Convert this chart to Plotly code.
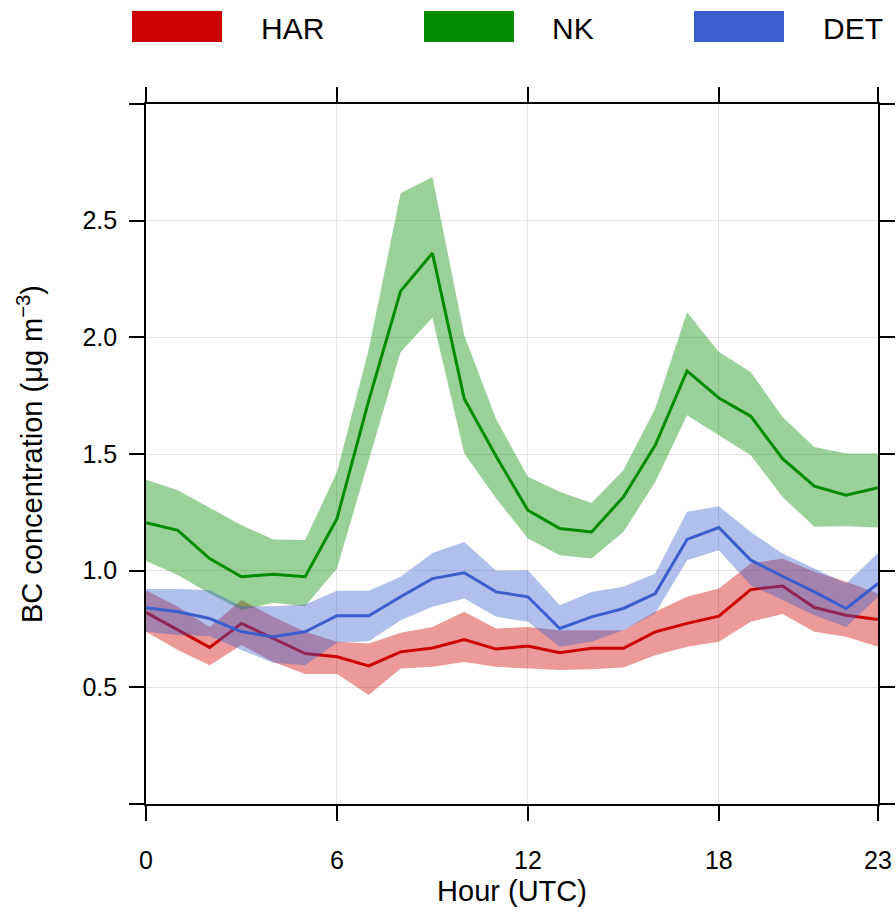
import plotly.graph_objects as go

# Diurnal black carbon profiles: mean with confidence band per site
hours = list(range(24))

har_mean = [0.821, 0.745, 0.671, 0.774, 0.710, 0.645, 0.631, 0.592, 0.652, 0.669, 0.705, 0.664,
            0.677, 0.648, 0.667, 0.667, 0.738, 0.774, 0.805, 0.919, 0.934, 0.842, 0.809, 0.791]
har_upper = [0.916, 0.845, 0.759, 0.874, 0.802, 0.738, 0.695, 0.688, 0.734, 0.759, 0.824, 0.752,
             0.759, 0.745, 0.745, 0.745, 0.824, 0.888, 0.924, 1.031, 1.052, 0.995, 0.952, 0.902]
har_lower = [0.738, 0.660, 0.595, 0.681, 0.609, 0.557, 0.557, 0.467, 0.581, 0.588, 0.609, 0.588,
             0.581, 0.574, 0.577, 0.585, 0.638, 0.674, 0.695, 0.781, 0.814, 0.738, 0.717, 0.674]

nk_mean = [1.206, 1.173, 1.052, 0.974, 0.985, 0.974, 1.223, 1.730, 2.198, 2.361, 1.737, 1.490,
           1.259, 1.181, 1.166, 1.316, 1.537, 1.856, 1.740, 1.662, 1.480, 1.362, 1.323, 1.355]
nk_upper = [1.390, 1.345, 1.270, 1.195, 1.134, 1.131, 1.423, 1.950, 2.618, 2.687, 2.009, 1.650,
            1.402, 1.338, 1.290, 1.430, 1.695, 2.107, 1.937, 1.851, 1.659, 1.530, 1.502, 1.502]
nk_lower = [1.041, 0.981, 0.902, 0.831, 0.862, 0.848, 1.009, 1.470, 1.937, 2.084, 1.502, 1.310,
            1.138, 1.066, 1.052, 1.166, 1.380, 1.666, 1.580, 1.495, 1.316, 1.188, 1.190, 1.185]

det_mean = [0.841, 0.824, 0.795, 0.738, 0.717, 0.738, 0.807, 0.807, 0.888, 0.966, 0.991, 0.909,
            0.888, 0.752, 0.802, 0.838, 0.902, 1.134, 1.185, 1.045, 0.976, 0.909, 0.838, 0.945]
det_upper = [0.921, 0.921, 0.916, 0.848, 0.848, 0.855, 0.914, 0.914, 0.974, 1.076, 1.123, 1.000,
             1.002, 0.852, 0.909, 0.931, 0.988, 1.252, 1.276, 1.166, 1.074, 1.009, 0.945, 1.076]
det_lower = [0.738, 0.724, 0.720, 0.660, 0.605, 0.595, 0.692, 0.697, 0.788, 0.845, 0.881, 0.802,
             0.781, 0.674, 0.695, 0.745, 0.817, 1.045, 1.088, 0.938, 0.874, 0.809, 0.759, 0.888]

site_names = ["HAR", "NK", "DET"]
site_colors = [(205, 0, 0), (0, 139, 0), (58, 95, 205)]
series = [
    (har_mean, har_upper, har_lower),
    (nk_mean, nk_upper, nk_lower),
    (det_mean, det_upper, det_lower),
]

x_ticks = [0, 6, 12, 18, 23]
y_ticks = [0, 0.5, 1.0, 1.5, 2.0, 2.5, 3.0]
y_ticktext = ["", "0.5", "1.0", "1.5", "2.0", "2.5", ""]

FONT = "Liberation Sans, Arial, sans-serif"
W, H = 896, 917
ML, MR, MT, MB = 146, 18, 104, 113
PW, PH = W - ML - MR, H - MT - MB

fig = go.Figure()

for name, rgb, (mean, upper, lower) in zip(site_names, site_colors, series):
    r, g, b = rgb
    fig.add_trace(go.Scatter(
        x=hours + hours[::-1],
        y=upper + lower[::-1],
        fill="toself",
        fillcolor=f"rgba({r},{g},{b},0.4)",
        line=dict(width=0),
        mode="lines",
        hoverinfo="skip",
        showlegend=False,
    ))
    fig.add_trace(go.Scatter(
        x=hours, y=mean, mode="lines", name=name,
        line=dict(color=f"rgb({r},{g},{b})", width=3),
        showlegend=False,
    ))


def px_x(px):
    return (px - ML) / PW


def px_y(py):
    return (H - MB - py) / PH


# key across the top: filled swatch followed by site label
key_swatch_left = [132, 424, 694]
key_text_left = [259, 550, 821]
shapes = []
annotations = []
for name, rgb, sx, tx in zip(site_names, site_colors, key_swatch_left, key_text_left):
    r, g, b = rgb
    shapes.append(dict(
        type="rect", xref="paper", yref="paper",
        x0=px_x(sx), x1=px_x(sx + 90), y0=px_y(42), y1=px_y(11),
        fillcolor=f"rgb({r},{g},{b})", line=dict(width=0),
    ))
    annotations.append(dict(
        text=name, xref="paper", yref="paper", x=px_x(tx), y=px_y(28),
        xanchor="left", yanchor="middle", showarrow=False,
        font=dict(family=FONT, size=30, color="black"),
    ))

axis_common = dict(
    showline=True, linecolor="black", linewidth=1.7, mirror="ticks",
    ticks="outside", ticklen=15, tickwidth=1.7, tickcolor="black",
    showgrid=True, gridcolor="#e3e3e3", gridwidth=1.4, zeroline=False,
    tickfont=dict(family=FONT, size=25, color="black"),
    automargin=False,
)

fig.update_layout(
    width=W, height=H,
    margin=dict(l=ML, r=MR, t=MT, b=MB),
    paper_bgcolor="white", plot_bgcolor="white",
    showlegend=False,
    shapes=shapes, annotations=annotations,
    xaxis=dict(
        range=[0, 23], tickvals=x_ticks, ticklabelstandoff=18,
        title=dict(text="Hour (UTC)", font=dict(family=FONT, size=29, color="black"), standoff=8),
        **axis_common,
    ),
    yaxis=dict(
        range=[0, 3], tickvals=y_ticks, ticktext=y_ticktext, ticklabelstandoff=7,
        title=dict(text="BC concentration (\u03bcg m<sup>\u22123</sup>)",
                   font=dict(family=FONT, size=29, color="black"), standoff=31),
        **axis_common,
    ),
)

fig.write_html("out.html")
